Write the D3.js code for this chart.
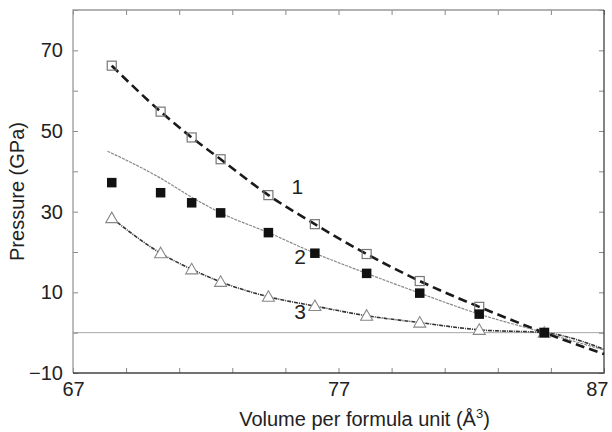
<!DOCTYPE html>
<html><head><meta charset="utf-8">
<script src="https://cdn.jsdelivr.net/npm/d3@7"></script>
<style>body{margin:0;background:#fff}svg{display:block}text{font-family:"Liberation Sans",Arial,sans-serif}</style>
</head><body><svg id="c" width="612" height="432"></svg>
<script>
// Data
const volumes = [68.46, 70.30, 71.47, 72.56, 74.36, 76.11, 78.06, 80.06, 82.30, 84.75];
const series1 = [66.2, 54.8, 48.4, 43.0, 34.1, 26.9, 19.5, 12.8, 6.4, 0.0];   // open squares
const series2 = [37.2, 34.7, 32.2, 29.7, 24.8, 19.7, 14.7, 9.8, 4.6, 0.0];    // filled squares
const series3 = [28.4, 19.7, 15.7, 12.6, 8.9, 6.6, 4.2, 2.5, 0.7, 0.0];      // open triangles
// fitted curves (knots)
const curve1X = [68.46, 70.30, 71.47, 72.56, 74.36, 76.11, 78.06, 80.06, 82.30, 84.75, 87];
const curve1Y = [66.2, 54.8, 48.4, 43.0, 34.1, 26.9, 19.5, 12.8, 6.4, 0.0, -5.3];
const curve2X = [68.3, 70.30, 71.47, 72.56, 74.36, 76.11, 78.06, 80.06, 82.30, 84.75, 87];
const curve2Y = [45.0, 38.3, 33.6, 29.7, 24.8, 19.7, 14.7, 9.8, 4.6, 0.0, -4.3];
const curve3X = [68.46, 70.30, 71.47, 72.56, 74.36, 76.11, 78.06, 80.06, 82.30, 84.75, 87];
const curve3Y = [28.4, 19.7, 15.7, 12.6, 8.9, 6.6, 4.2, 2.5, 0.7, 0.0, -4.1];
const xTicks = [67, 69, 71, 73, 75, 77, 79, 81, 83, 85, 87];
const xLabels = [67, 77, 87];
const yTicks = [-10, 0, 10, 20, 30, 40, 50, 60, 70, 80];
const yLabels = [-10, 10, 30, 50, 70];
const curveLabels = [{t:"1", x:75.45, y:34.3}, {t:"2", x:75.55, y:17.0}, {t:"3", x:75.55, y:3.3}];

const L = 73, R = 604, T = 10, B = 373;
const svg = d3.select("#c");
const x = d3.scaleLinear().domain([67, 87]).range([L, R]);
const y = d3.scaleLinear().domain([-10, 80]).range([B, T]);

// zero line
svg.append("line").attr("x1", L).attr("x2", R).attr("y1", y(0)).attr("y2", y(0))
  .attr("stroke", "#a8a8a8").attr("stroke-width", 1);

const fmt = d => String(d).replace("-", "\u2212");
function styleAxis(g, labels) {
  g.select(".domain").remove();
  g.selectAll(".tick line").attr("stroke", "#888");
  g.selectAll(".tick text").attr("fill", "#222").style("font-size", "20px")
    .text(d => labels.includes(d) ? fmt(d) : "");
}
svg.append("g").attr("transform", `translate(0,${B})`)
  .call(d3.axisBottom(x).tickValues(xTicks).tickSize(-5).tickPadding(9))
  .call(g => styleAxis(g, xLabels))
  .call(g => g.selectAll(".tick text").filter(d => d === 87).attr("text-anchor", "end").attr("x", 4));
svg.append("g").attr("transform", `translate(0,${T})`)
  .call(d3.axisTop(x).tickValues(xTicks).tickSize(-5).tickFormat(""))
  .call(g => styleAxis(g, []));
svg.append("g").attr("transform", `translate(${L},0)`)
  .call(d3.axisLeft(y).tickValues(yTicks).tickSize(-5).tickPadding(10))
  .call(g => styleAxis(g, yLabels));
svg.append("g").attr("transform", `translate(${R},0)`)
  .call(d3.axisRight(y).tickValues(yTicks).tickSize(-5).tickFormat(""))
  .call(g => styleAxis(g, []));

// frame
svg.append("path").attr("d", `M${L},${B}V${T}H${R}`).attr("fill", "none").attr("stroke", "#999").attr("stroke-width", 1.3);
svg.append("path").attr("d", `M${L},${B}H${R}V${T}`).attr("fill", "none").attr("stroke", "#444").attr("stroke-width", 1.3);

// curves
const line = d3.line().x(d => x(d[0])).y(d => y(d[1])).curve(d3.curveMonotoneX);
const zip = (a, b) => a.map((v, i) => [v, b[i]]);
svg.append("path").attr("d", line(zip(curve2X, curve2Y))).attr("fill", "none")
  .attr("stroke", "#8a8a8a").attr("stroke-width", 1.2).attr("stroke-dasharray", "3,1");
svg.append("path").attr("d", line(zip(curve3X, curve3Y))).attr("fill", "none")
  .attr("stroke", "#333").attr("stroke-width", 1.6).attr("stroke-dasharray", "4,1,1,1");
svg.append("path").attr("d", line(zip(curve1X, curve1Y))).attr("fill", "none")
  .attr("stroke", "#1a1a1a").attr("stroke-width", 2.6).attr("stroke-dasharray", "9,5");

// markers
const s = 9;
svg.append("g").selectAll("rect").data(zip(volumes, series1)).join("rect")
  .attr("x", d => x(d[0]) - s/2).attr("y", d => y(d[1]) - s/2).attr("width", s).attr("height", s)
  .attr("fill", "none").attr("stroke", "#777").attr("stroke-width", 1.2);
svg.append("g").selectAll("path").data(zip(volumes, series3)).join("path")
  .attr("d", d => { const cx = x(d[0]), cy = y(d[1]); return `M${cx},${cy-6}L${cx+6},${cy+4.5}L${cx-6},${cy+4.5}Z`; })
  .attr("fill", "#fff").attr("stroke", "#888").attr("stroke-width", 1.1);
const fs = 9.5;
svg.append("g").selectAll("rect").data(zip(volumes, series2)).join("rect")
  .attr("x", d => x(d[0]) - fs/2).attr("y", d => y(d[1]) - fs/2).attr("width", fs).attr("height", fs)
  .attr("fill", "#111");

// curve labels
svg.append("g").selectAll("text").data(curveLabels).join("text")
  .attr("x", d => x(d.x)).attr("y", d => y(d.y)).attr("text-anchor", "middle")
  .style("font-size", "21px").attr("fill", "#222").text(d => d.t);

// axis titles
const xt = svg.append("text").attr("x", (L + R) / 2 + 26).attr("y", 426).attr("text-anchor", "middle")
  .style("font-size", "20px").attr("fill", "#222");
xt.append("tspan").text("Volume per formula unit (Å");
xt.append("tspan").attr("dy", -8).style("font-size", "13px").text("3");
xt.append("tspan").attr("dy", 8).text(")");
svg.append("text").attr("transform", `translate(24,${(T + B) / 2}) rotate(-90)`).attr("text-anchor", "middle")
  .style("font-size", "20px").attr("fill", "#222").text("Pressure (GPa)");
</script></body></html>
